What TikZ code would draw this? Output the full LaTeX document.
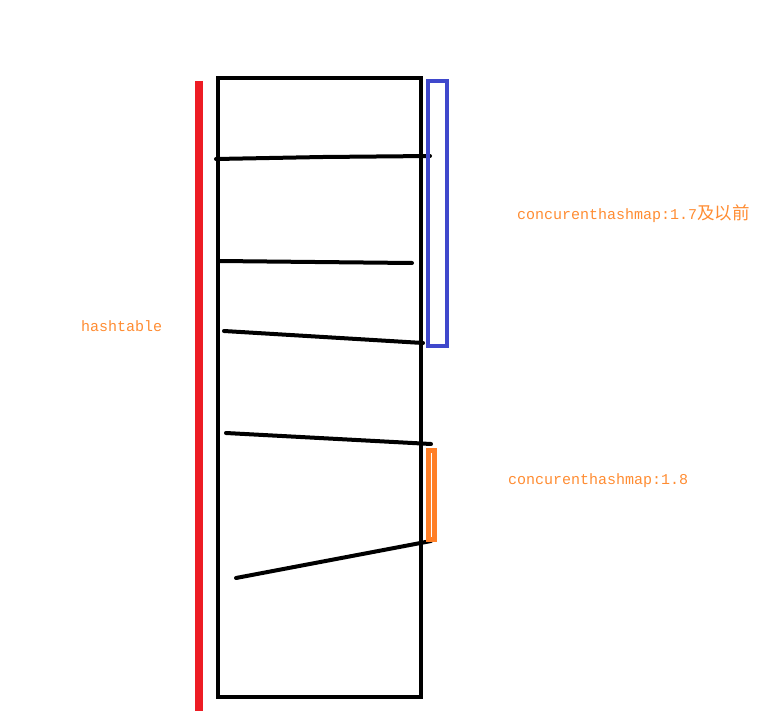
\documentclass[tikz,border=0pt]{standalone}
\usepackage{fontspec}
\newfontfamily\monof{Liberation Mono}
\newfontfamily\cjk{Noto Sans CJK SC}
\definecolor{pred}{RGB}{237,28,36}
\definecolor{pblue}{RGB}{63,72,204}
\definecolor{porange}{RGB}{255,127,39}
\definecolor{ptext}{RGB}{255,140,50}
\begin{document}
\begin{tikzpicture}[x=1pt,y=-1pt,
  label/.style={anchor=base west,inner sep=0pt,text=ptext,font=\monof\fontsize{15}{15}\selectfont},
  frame/.style={draw=black,line width=4.7pt},
  divider/.style={draw=black,line width=4pt,line cap=round},
  region/.style={line width=4.3pt}]
\useasboundingbox (0,0) rectangle (771,722);
% hashtable bar
\draw[pred,line width=8pt] (199,81) -- (199,711);
% table
\draw[frame] (218,78) rectangle (421,697);
% dividers
\draw[divider] (216,159) -- (323,157) -- (430,156);
\draw[divider] (219,261) -- (315,262) -- (412,263);
\draw[divider] (224,331) -- (423,343);
\draw[divider] (226,433) -- (431,444);
\draw[divider] (236,578) -- (431,541);
% segments
\draw[pblue,region] (427.8,81) rectangle (446.9,346);
\draw[porange,line width=5pt] (428.2,450.2) rectangle (434.2,539.2);
% labels
\node[label] (l17) at (517,219.5) {concurenthashmap:1.7{\cjk\fontsize{17.5}{17.5}\selectfont 及以前}};
\node[label] (lht) at (81,331.5) {hashtable};
\node[label] (l18) at (508,484) {concurenthashmap:1.8};
\end{tikzpicture}
\end{document}
